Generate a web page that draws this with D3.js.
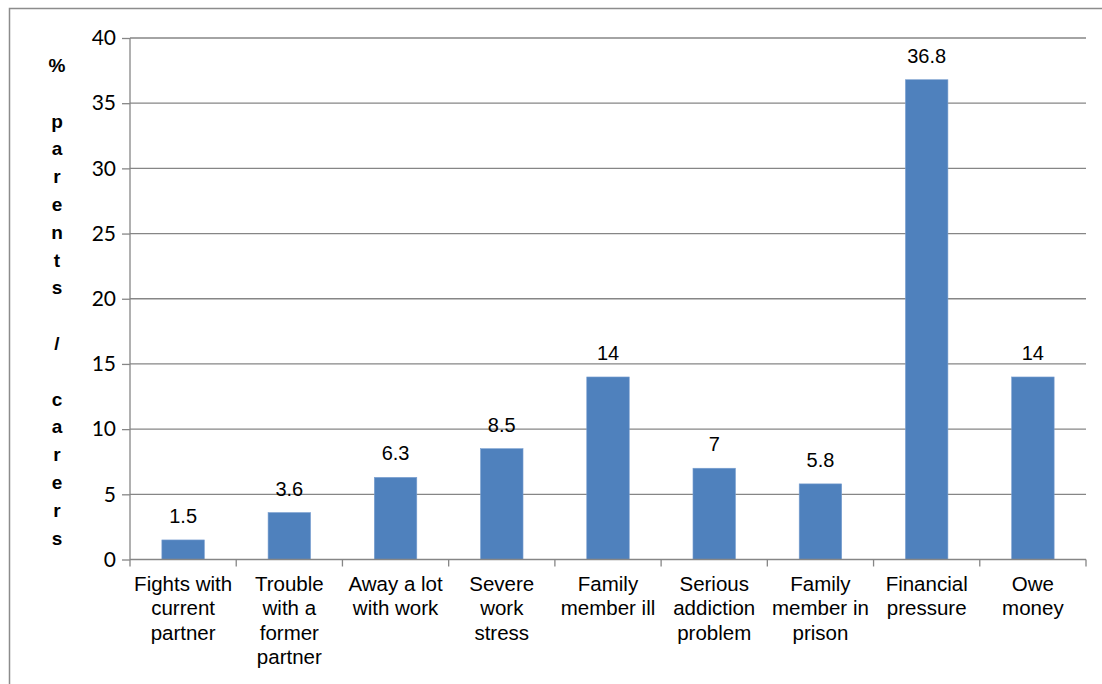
<!DOCTYPE html>
<html>
<head>
<meta charset="utf-8">
<script src="https://cdn.jsdelivr.net/npm/d3@7"></script>
<style>
  html, body { margin: 0; padding: 0; background: #fff; }
  svg { display: block; }
</style>
</head>
<body>
<svg id="chart" width="1102" height="684"></svg>
<script>
// Reported stressors among parents / carers
const categories = [
  ["Fights with", "current", "partner"],
  ["Trouble", "with a", "former", "partner"],
  ["Away a lot", "with work"],
  ["Severe", "work", "stress"],
  ["Family", "member ill"],
  ["Serious", "addiction", "problem"],
  ["Family", "member in", "prison"],
  ["Financial", "pressure"],
  ["Owe", "money"]
];
const values = [1.5, 3.6, 6.3, 8.5, 14, 7, 5.8, 36.8, 14];
const yTicks = [0, 5, 10, 15, 20, 25, 30, 35, 40];
const yTitle = "% parents / carers";

(function drawChart() {
  const svg = d3.select("#chart");
  const gridColor = "#868686";

  // outer chart frame
  svg.append("rect")
    .attr("x", 9.5).attr("y", 8.5)
    .attr("width", 1120).attr("height", 700)
    .attr("fill", "none").attr("stroke", "#8c8c8c").attr("stroke-width", 1.5);

  const plotLeft = 130, plotRight = 1086, plotTop = 38, plotBottom = 559.5;
  const keys = categories.map((c, i) => i);

  const x = d3.scaleBand().domain(keys).range([plotLeft, plotRight])
    .paddingInner(0.6).paddingOuter(0.3);
  const y = d3.scaleLinear().domain([0, 40]).range([plotBottom, plotTop]);

  // horizontal gridlines
  svg.append("g").selectAll("line")
    .data(yTicks.filter(d => d > 0))
    .join("line")
    .attr("x1", plotLeft).attr("x2", plotRight)
    .attr("y1", d => y(d)).attr("y2", d => y(d))
    .attr("stroke", gridColor).attr("stroke-width", 1.3);

  // y axis
  const yAxis = d3.axisLeft(y).tickValues(yTicks).tickSize(8).tickPadding(6)
    .tickFormat(d3.format("d"));
  const gy = svg.append("g").attr("transform", `translate(${plotLeft},0)`).call(yAxis);
  gy.select(".domain").attr("stroke", gridColor).attr("stroke-width", 1.3)
    .attr("d", `M0,${y(40)}V${y(0)}`);
  gy.selectAll(".tick line").attr("stroke", gridColor).attr("stroke-width", 1.3);
  gy.selectAll(".tick text")
    .attr("font-family", "Lato, 'Open Sans', sans-serif")
    .attr("font-size", 21).attr("fill", "#000");

  // bars
  svg.append("g").selectAll("rect")
    .data(values)
    .join("rect")
    .attr("x", (d, i) => x(i))
    .attr("width", x.bandwidth())
    .attr("y", d => y(d))
    .attr("height", d => y(0) - y(d))
    .attr("fill", "#4F81BD")
    .attr("stroke", "#7a9fd0").attr("stroke-width", 0.6);

  // value labels
  svg.append("g").selectAll("text")
    .data(values)
    .join("text")
    .attr("x", (d, i) => x(i) + x.bandwidth() / 2)
    .attr("y", d => y(d) - 17)
    .attr("text-anchor", "middle")
    .attr("font-family", "'Liberation Sans', Arial, sans-serif")
    .attr("font-size", 20)
    .text(d => d);

  // x axis line with category boundary ticks
  const n = categories.length;
  svg.append("line")
    .attr("x1", plotLeft).attr("x2", plotRight)
    .attr("y1", y(0)).attr("y2", y(0))
    .attr("stroke", gridColor).attr("stroke-width", 1.3);
  svg.append("g").selectAll("line")
    .data(d3.range(n + 1))
    .join("line")
    .attr("x1", i => plotLeft + i * (plotRight - plotLeft) / n)
    .attr("x2", i => plotLeft + i * (plotRight - plotLeft) / n)
    .attr("y1", y(0)).attr("y2", y(0) + 7)
    .attr("stroke", gridColor).attr("stroke-width", 1.3);

  // category labels
  const catG = svg.append("g")
    .attr("font-family", "'Liberation Sans', Arial, sans-serif")
    .attr("font-size", 20.5).attr("fill", "#000");
  categories.forEach((lines, i) => {
    const cx = x(i) + x.bandwidth() / 2;
    const t = catG.append("text").attr("text-anchor", "middle");
    lines.forEach((ln, j) => {
      t.append("tspan").attr("x", cx).attr("y", 591 + j * 24.3).text(ln);
    });
  });

  // vertical stacked axis title, one character per line
  const tg = svg.append("text")
    .attr("font-family", "'Liberation Sans', Arial, sans-serif")
    .attr("font-weight", "bold").attr("font-size", 19)
    .attr("text-anchor", "middle");
  Array.from(yTitle).forEach((ch, j) => {
    tg.append("tspan")
      .attr("x", 57)
      .attr("y", 72 + j * 27.8)
      .text(ch === " " ? "\u00a0" : ch);
  });
})();
</script>
</body>
</html>
